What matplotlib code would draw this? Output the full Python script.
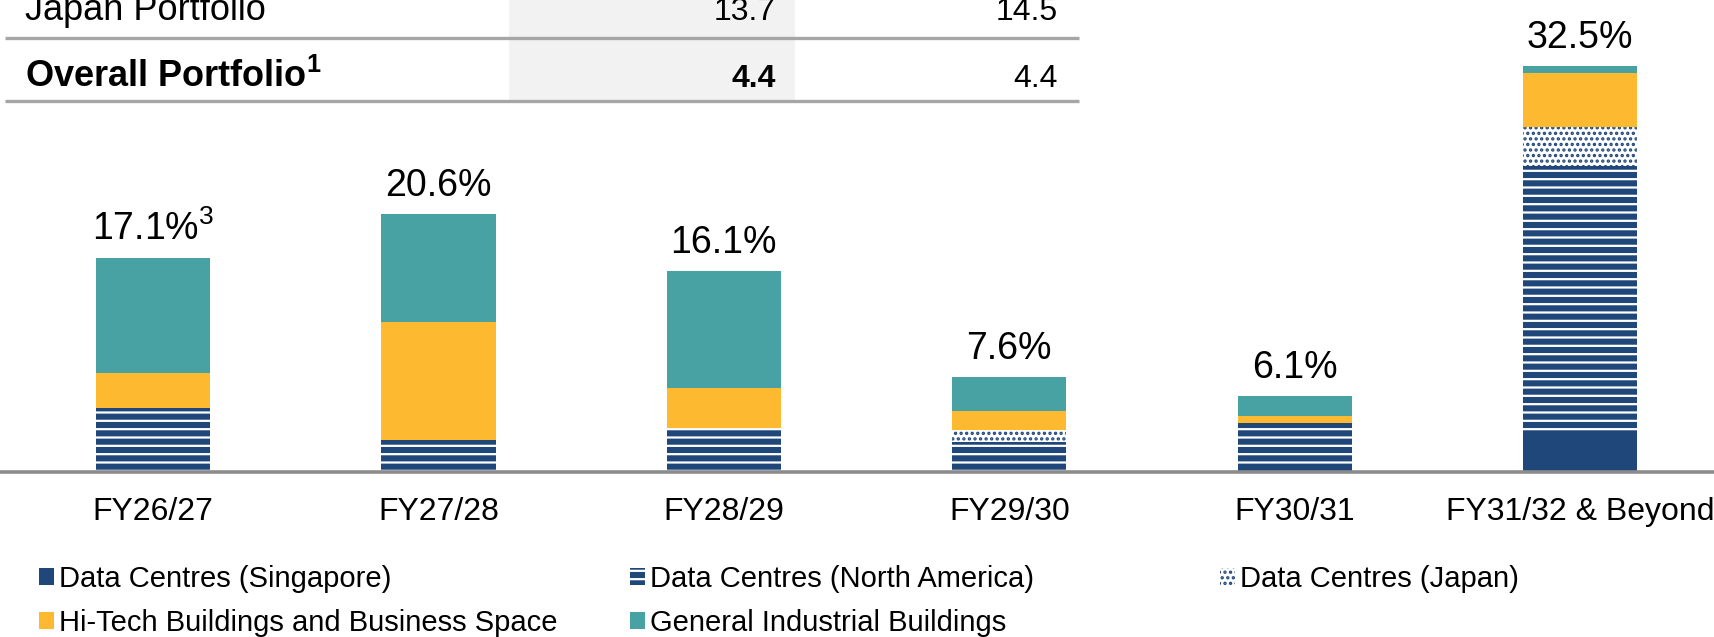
import numpy as np
import matplotlib.pyplot as plt
from matplotlib.patches import Patch, Rectangle

# ==========================================
# 0. DATOS
# ==========================================
periodos = ['FY26/27', 'FY27/28', 'FY28/29', 'FY29/30', 'FY30/31', 'FY31/32 & Beyond']
etiquetas_total = [r'17.1%$^{\mathrm{3}}$', '20.6%', '16.1%', '7.6%', '6.1%', '32.5%']

# % por segmento (de abajo hacia arriba)
dc_singapur = [0.0, 0.0, 0.0, 0.0, 0.6, 3.0]
dc_norteamerica = [5.1, 2.6, 3.5, 2.4, 3.3, 21.5]
dc_japon = [0.0, 0.0, 0.0, 1.0, 0.0, 3.1]
hitech = [2.8, 9.4, 3.2, 1.5, 0.6, 4.3]
industrial = [9.2, 8.6, 9.4, 2.7, 1.6, 0.6]

# Tabla de arriba (cortada en la imagen original)
filas_tabla = ['Japan Portfolio', r'Overall Portfolio$^{\mathbf{1}}$']
columna_a = ['13.7', '4.4']
columna_b = ['14.5', '4.4']

# ==========================================
# 1. ESTILO
# ==========================================
plt.rcParams['font.family'] = ['Liberation Sans', 'DejaVu Sans']
plt.rcParams['mathtext.fontset'] = 'custom'
plt.rcParams['mathtext.rm'] = 'Liberation Sans'
plt.rcParams['mathtext.bf'] = 'Liberation Sans:bold'
plt.rcParams['hatch.linewidth'] = 1.6

AZUL = '#1F477A'
AMARILLO = '#FDB92F'
TURQUESA = '#48A1A3'
GRIS_LINEA = '#8C8C8C'

W, H = 1714, 637
PX_POR_PCT = 12.5
BASE_PX = 472  # linea base, medida desde arriba

fig = plt.figure(figsize=(W / 100, H / 100), dpi=100)
fig.patch.set_facecolor('white')

# ==========================================
# 2. BARRAS APILADAS
# ==========================================
ax = fig.add_axes([0, (H - BASE_PX) / H, 1, BASE_PX / H])
ax.set_xlim(-0.536, 5.469)
ax.set_ylim(0, BASE_PX / PX_POR_PCT)

x = np.arange(len(periodos))
ancho = 0.40

segmentos = [
    (dc_singapur, dict(color=AZUL), 'Data Centres (Singapore)'),
    (dc_norteamerica, dict(facecolor=AZUL, edgecolor='white', hatch='--'), 'Data Centres (North America)'),
    (dc_japon, dict(facecolor='white', edgecolor=AZUL, hatch='...'), 'Data Centres (Japan)'),
    (hitech, dict(color=AMARILLO), 'Hi-Tech Buildings and Business Space'),
    (industrial, dict(color=TURQUESA), 'General Industrial Buildings'),
]

base = np.zeros(len(periodos))
handles = []
for valores, estilo, nombre in segmentos:
    valores = np.array(valores)
    ax.bar(x, valores, ancho, bottom=base, linewidth=0, **estilo)
    handles.append(Patch(linewidth=0, label=nombre, **estilo))
    base += valores

for xi, total, txt in zip(x, base, etiquetas_total):
    ax.annotate(txt, (xi, total), xytext=(0, 13), textcoords='offset points',
                ha='center', va='baseline', fontsize=27, color='black')

ax.axhline(0, color=GRIS_LINEA, lw=2.6, zorder=4, clip_on=False)

for s in ax.spines.values():
    s.set_visible(False)
ax.set_yticks([])
ax.set_xticks(x)
ax.set_xticklabels(periodos, fontsize=23)
ax.tick_params(axis='x', length=0, pad=18)
ax.patch.set_alpha(0)

# ==========================================
# 3. TABLA (parte inferior visible)
# ==========================================
ax_t = fig.add_axes([0, 0, 1, 1], zorder=-1)
ax_t.set_xlim(0, W)
ax_t.set_ylim(H, 0)
ax_t.set_axis_off()

ax_t.add_patch(Rectangle((509, 0), 286, 101, color='#F2F2F2', lw=0))
for y_linea in [38, 101]:
    ax_t.plot([5, 1079], [y_linea, y_linea], color='#A6A6A6', lw=2.4, solid_capstyle='butt')

y_filas = [20, 87]
for fila, a, b, yb in zip(filas_tabla, columna_a, columna_b, y_filas):
    peso = 'bold' if 'Overall' in fila else 'normal'
    ax_t.text(25, yb, fila, fontsize=26, fontweight=peso, va='baseline', ha='left')
    ax_t.text(776, yb, a, fontsize=23, fontweight=peso, va='baseline', ha='right')
    ax_t.text(1058, yb, b, fontsize=23, va='baseline', ha='right')

# ==========================================
# 4. LEYENDA (tres columnas sueltas)
# ==========================================
columnas = [([handles[0], handles[3]], 39), ([handles[1], handles[4]], 630), ([handles[2]], 1220)]
for hs, x_px in columnas:
    leg = fig.legend(handles=hs, loc='upper left', bbox_to_anchor=(x_px / W, 1 - 565 / H),
                     frameon=False, fontsize=21, borderpad=0, borderaxespad=0,
                     handlelength=0.5, handleheight=0.5, handletextpad=0.2,
                     labelspacing=0.55)

plt.savefig('out.png', dpi=100)
